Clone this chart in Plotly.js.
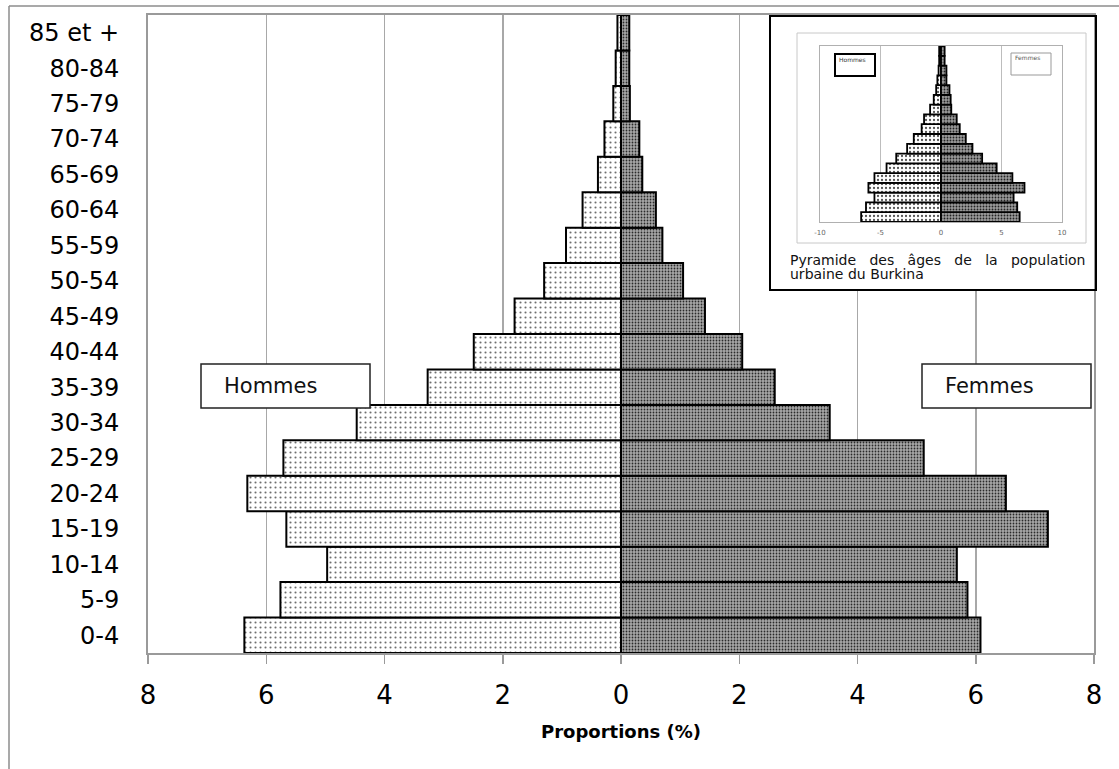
<!DOCTYPE html>
<html>
<head>
<meta charset="utf-8">
<script src="https://cdn.plot.ly/plotly-3.0.1.min.js"></script>
<style>
  html, body { margin: 0; padding: 0; background: #ffffff; }
  #chart { width: 1119px; height: 769px; }
</style>
</head>
<body>
<div id="chart"></div>
<script>
// ---- Data ----
const categories = ['0-4','5-9','10-14','15-19','20-24','25-29','30-34','35-39','40-44','45-49','50-54','55-59','60-64','65-69','70-74','75-79','80-84','85 et +'];
const hommes = [6.37, 5.76, 4.97, 5.66, 6.32, 5.71, 4.47, 3.27, 2.49, 1.80, 1.30, 0.93, 0.65, 0.39, 0.28, 0.13, 0.09, 0.06];
const femmes = [6.08, 5.86, 5.68, 7.22, 6.51, 5.12, 3.53, 2.60, 2.05, 1.42, 1.05, 0.70, 0.59, 0.36, 0.31, 0.15, 0.14, 0.14];

// Inset: urban population pyramid
const hommesUrbain = [6.6, 6.2, 5.5, 6.0, 5.5, 4.5, 3.7, 2.8, 2.25, 1.6, 1.4, 0.9, 0.6, 0.4, 0.3, 0.2, 0.15, 0.15];
const femmesUrbain = [6.5, 6.3, 6.0, 6.9, 5.9, 4.6, 3.4, 2.6, 2.05, 1.55, 1.3, 0.85, 0.8, 0.7, 0.45, 0.45, 0.3, 0.3];

const mainTickVals = [-8, -6, -4, -2, 0, 2, 4, 6, 8];
const mainTickText = ['8', '6', '4', '2', '0', '2', '4', '6', '8'];
const insetTickVals = [-10, -5, 0, 5, 10];
const insetTickText = ['-10', '-5', '0', '5', '10'];

const FONT = 'DejaVu Sans, Liberation Sans, Arial, sans-serif';

const malePattern = { shape: '.', size: 5, solidity: 0.14, fgcolor: '#6e6e6e', bgcolor: '#ffffff' };
const femalePattern = { shape: '.', size: 3, solidity: 0.28, fgcolor: '#2a2a2a', bgcolor: '#a8a8a8' };

const traces = [
  {
    type: 'bar', orientation: 'h', name: 'Hommes',
    y: categories, x: hommes.map(v => -v),
    marker: { color: '#ffffff', pattern: malePattern, line: { color: '#000000', width: 2 } },
    hoverinfo: 'skip', showlegend: false, xaxis: 'x', yaxis: 'y'
  },
  {
    type: 'bar', orientation: 'h', name: 'Femmes',
    y: categories, x: femmes,
    marker: { color: '#a8a8a8', pattern: femalePattern, line: { color: '#000000', width: 2 } },
    hoverinfo: 'skip', showlegend: false, xaxis: 'x', yaxis: 'y'
  },
  // white background frame of the inset (empty subplot)
  { type: 'scatter', x: [], y: [], xaxis: 'x2', yaxis: 'y2', hoverinfo: 'skip', showlegend: false },
  {
    type: 'bar', orientation: 'h', name: 'Hommes urbain',
    y: categories, x: hommesUrbain.map(v => -v),
    marker: { color: '#ffffff', pattern: { shape: '.', size: 4, solidity: 0.25, fgcolor: '#555', bgcolor: '#fff' }, line: { color: '#000000', width: 1.8 } },
    hoverinfo: 'skip', showlegend: false, xaxis: 'x3', yaxis: 'y3'
  },
  {
    type: 'bar', orientation: 'h', name: 'Femmes urbain',
    y: categories, x: femmesUrbain,
    marker: { color: '#999', pattern: { shape: '.', size: 3, solidity: 0.3, fgcolor: '#222', bgcolor: '#9a9a9a' }, line: { color: '#000000', width: 1.8 } },
    hoverinfo: 'skip', showlegend: false, xaxis: 'x3', yaxis: 'y3'
  }
];

// pixel -> paper helpers (plot area: x 148..1094, y 15..653)
const PX0 = 148, PX1 = 1094, PY0 = 15, PY1 = 653;
const px = v => (v - PX0) / (PX1 - PX0);
const py = v => (PY1 - v) / (PY1 - PY0);

const layout = {
  width: 1119, height: 769,
  margin: { l: PX0, r: 1119 - PX1, t: PY0, b: 769 - PY1 },
  paper_bgcolor: '#ffffff',
  plot_bgcolor: '#ffffff',
  barmode: 'overlay',
  bargap: 0,
  font: { family: FONT, color: '#000000' },
  xaxis: {
    domain: [0, 1], anchor: 'y',
    range: [-8, 8], tickvals: mainTickVals, ticktext: mainTickText,
    tickfont: { size: 26, family: FONT },
    showgrid: true, gridcolor: '#a8a8a8', gridwidth: 1.5,
    zeroline: false,
    showline: true, mirror: true, linecolor: '#9a9a9a', linewidth: 2,
    ticks: 'outside', ticklen: 9, tickcolor: '#9a9a9a', tickwidth: 1.5,
    ticklabelstandoff: 9,
    title: { text: '<b>Proportions (%)</b>', font: { size: 18, family: FONT }, standoff: 16 },
    fixedrange: true
  },
  yaxis: {
    domain: [0, 1], anchor: 'x',
    type: 'category', categoryorder: 'array', categoryarray: categories,
    tickfont: { size: 24, family: FONT },
    showgrid: false, zeroline: false,
    showline: true, mirror: true, linecolor: '#9a9a9a', linewidth: 2,
    ticks: '', ticklabelstandoff: 22,
    fixedrange: true
  },
  // inset white frame
  xaxis2: { domain: [px(769), 1], anchor: 'y2', visible: false, range: [0, 1], fixedrange: true },
  yaxis2: { domain: [py(290), 1], anchor: 'x2', visible: false, range: [0, 1], fixedrange: true },
  // inset mini pyramid
  xaxis3: {
    domain: [px(820), px(1062)], anchor: 'y3',
    range: [-10, 10], tickvals: insetTickVals, ticktext: insetTickText,
    tickfont: { size: 7, color: '#666', family: FONT },
    showgrid: true, gridcolor: '#bdbdbd', gridwidth: 1,
    zeroline: false,
    showline: true, mirror: true, linecolor: '#b0b0b0', linewidth: 1,
    ticks: '', ticklabelstandoff: 4,
    fixedrange: true
  },
  yaxis3: {
    domain: [py(222), py(46)], anchor: 'x3',
    type: 'category', categoryorder: 'array', categoryarray: categories,
    showticklabels: false, showgrid: false, zeroline: false,
    showline: true, mirror: true, linecolor: '#b0b0b0', linewidth: 1,
    ticks: '', fixedrange: true
  },
  shapes: [
    // outer frame (top and left lines)
    { type: 'line', xref: 'paper', yref: 'paper', x0: px(9), x1: px(1119), y0: py(6), y1: py(6), line: { color: '#8c8c8c', width: 1.5 } },
    { type: 'line', xref: 'paper', yref: 'paper', x0: px(9), x1: px(9), y0: py(6), y1: py(769), line: { color: '#8c8c8c', width: 1.5 } },
    // Hommes / Femmes boxes
    { type: 'rect', xref: 'paper', yref: 'paper', x0: px(201), x1: px(370), y0: py(408), y1: py(364), fillcolor: '#ffffff', line: { color: '#222', width: 1.5 }, layer: 'above' },
    { type: 'rect', xref: 'paper', yref: 'paper', x0: px(922), x1: px(1091), y0: py(408), y1: py(364), fillcolor: '#ffffff', line: { color: '#222', width: 1.5 }, layer: 'above' },
    // inset frame
    { type: 'rect', xref: 'paper', yref: 'paper', x0: px(770), x1: px(1096), y0: py(290), y1: py(16), line: { color: '#000000', width: 2 }, layer: 'above' },
    // inset chart-area grey border
    { type: 'rect', xref: 'paper', yref: 'paper', x0: px(797), x1: px(1086), y0: py(243), y1: py(33), line: { color: '#c8c8c8', width: 1 }, layer: 'above' },
    // inset legend boxes
    { type: 'rect', xref: 'paper', yref: 'paper', x0: px(835), x1: px(875), y0: py(76), y1: py(54), fillcolor: '#ffffff', line: { color: '#000000', width: 2 }, layer: 'above' },
    { type: 'rect', xref: 'paper', yref: 'paper', x0: px(1011), x1: px(1051), y0: py(75), y1: py(53), fillcolor: '#ffffff', line: { color: '#999999', width: 1 }, layer: 'above' }
  ],
  annotations: [
    { xref: 'paper', yref: 'paper', x: px(222), y: py(386), xanchor: 'left', yanchor: 'middle', text: 'Hommes', showarrow: false, font: { size: 21, family: FONT, color: '#111' } },
    { xref: 'paper', yref: 'paper', x: px(943), y: py(386), xanchor: 'left', yanchor: 'middle', text: 'Femmes', showarrow: false, font: { size: 21, family: FONT, color: '#111' } },
    { xref: 'paper', yref: 'paper', x: px(837), y: py(59), xanchor: 'left', yanchor: 'middle', text: 'Hommes', showarrow: false, font: { size: 6, family: FONT, color: '#333' } },
    { xref: 'paper', yref: 'paper', x: px(1013), y: py(58), xanchor: 'left', yanchor: 'middle', text: 'Femmes', showarrow: false, font: { size: 6, family: FONT, color: '#555' } },
    { xref: 'paper', yref: 'paper', x: px(788), y: py(260), xanchor: 'left', yanchor: 'middle', showarrow: false,
      text: 'Pyramide\u00a0\u00a0\u00a0des\u00a0\u00a0\u00a0âges\u00a0\u00a0\u00a0de\u00a0\u00a0\u00a0la\u00a0\u00a0\u00a0population', font: { size: 14, family: FONT, color: '#111' } },
    { xref: 'paper', yref: 'paper', x: px(788), y: py(274), xanchor: 'left', yanchor: 'middle', showarrow: false,
      text: 'urbaine du Burkina', font: { size: 14, family: FONT, color: '#111' } }
  ]
};

Plotly.newPlot('chart', traces, layout, { staticPlot: true, displayModeBar: false });
</script>
</body>
</html>
